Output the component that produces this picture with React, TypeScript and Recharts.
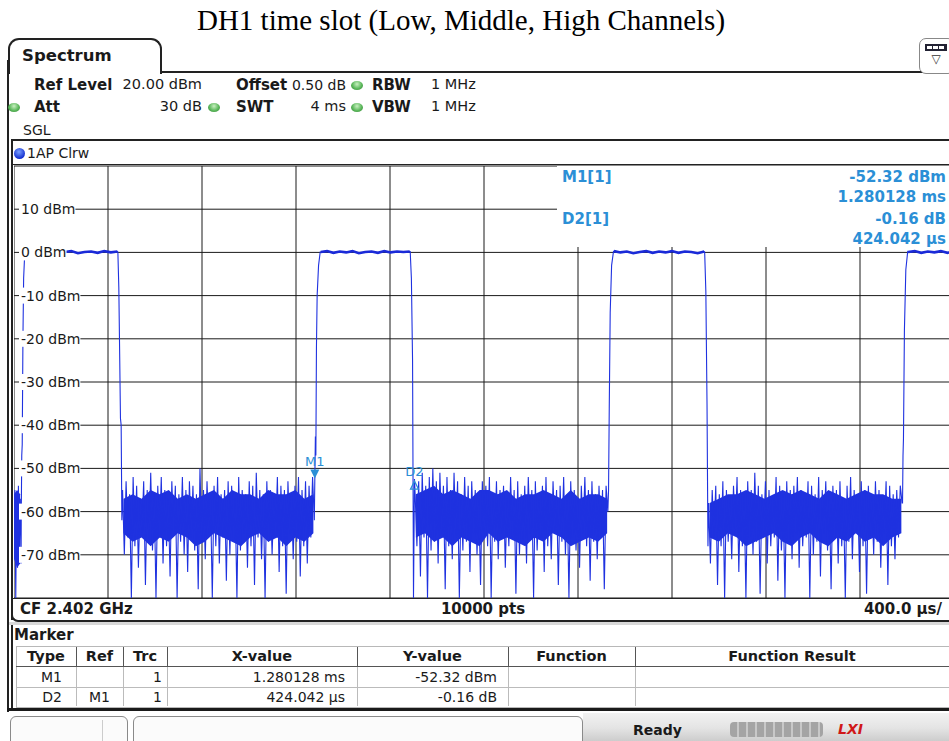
import React from "react";
import { Area, CartesianGrid, ComposedChart, Line, ReferenceDot, XAxis, YAxis } from "recharts";

// sweep 0..4 ms, 400 us/div ; ref level 20 dBm, 10 dB/div
const xTicksMs = [0, 0.4, 0.8, 1.2, 1.6, 2.0, 2.4, 2.8, 3.2, 3.6, 4.0];
const yTicksDbm = [10, 0, -10, -20, -30, -40, -50, -60, -70];

// noise floor readings (dBm) between the bursts, left to right
const noiseStart = [-71, -55, -80, -56, -73, -54, -69, -57, -72];
const noiseAfter1 = [
    -55, -70, -53, -66, -56, -80, -52, -68, -54, -73,
    -57, -65, -53, -77, -55, -67, -51, -69, -56, -80,
    -54, -66, -52, -72, -55, -68, -57, -75, -53, -65,
    -54, -80, -56, -67, -52, -70, -55, -74, -53, -66,
    -54, -69, -56, -78, -50, -67, -55, -71, -53, -65,
    -57, -80, -54, -68, -52, -72, -56, -66, -55, -76,
    -53, -70, -54, -67, -57, -80, -52, -69, -55, -65,
    -56, -73, -53, -68, -54, -77, -51, -66, -55, -71,
    -56, -80, -53, -67, -55, -70, -57, -66, -52, -74,
    -54, -68, -55, -79, -53, -65, -56, -71, -54, -67,
    -52, -75, -55, -68, -53, -72, -54, -66, -52, -62,
];
const noiseAfter2 = [
    -56, -68, -53, -75, -51, -66, -54, -80, -52, -69,
    -50, -67, -53, -72, -51, -65, -54, -78, -52, -68,
    -55, -71, -51, -66, -53, -80, -56, -69, -52, -67,
    -54, -74, -53, -65, -55, -70, -57, -77, -53, -66,
    -54, -68, -52, -80, -56, -67, -53, -71, -55, -65,
    -54, -73, -57, -68, -52, -66, -55, -79, -53, -70,
    -56, -67, -54, -72, -52, -65, -55, -80, -53, -69,
    -57, -66, -54, -74, -52, -68, -56, -71, -53, -65,
    -55, -77, -54, -67, -52, -70, -56, -80, -53, -66,
    -55, -69, -57, -73, -54, -65, -52, -68, -55, -76,
    -53, -67, -56, -71, -54, -66, -55, -78, -54, -60,
];
const noiseAfter3 = [
    -58, -72, -55, -66, -54, -77, -56, -68, -53, -80,
    -55, -67, -57, -71, -54, -65, -52, -74, -55, -68,
    -56, -80, -53, -66, -55, -70, -51, -67, -54, -79,
    -56, -65, -53, -72, -55, -68, -57, -66, -52, -76,
    -54, -69, -56, -80, -53, -67, -55, -71, -54, -65,
    -52, -73, -55, -68, -57, -66, -53, -80, -54, -70,
    -56, -67, -52, -75, -55, -65, -53, -69, -56, -78,
    -54, -66, -55, -72, -53, -68, -57, -80, -54, -67,
    -52, -71, -55, -65, -56, -74, -53, -68, -55, -79,
    -54, -66, -56, -70, -53, -67, -55, -73, -57, -65,
    -53, -77, -54, -68, -56, -71, -55, -66, -54, -58,
];

// dense core of the noise floor: upper / lower edge (dBm)
const core0Hi = [-56, -55, -56];
const core0Lo = [-71, -73, -72];
const core1Hi = [-57, -56, -57, -55, -56, -55, -57, -56, -57, -56, -55, -57, -55, -56, -56, -57, -55, -56, -56, -55, -57, -56];
const core1Lo = [-65, -67, -66, -68, -66, -67, -65, -66, -68, -67, -65, -66, -67, -68, -66, -65, -67, -66, -68, -66, -67, -65];
const core2Hi = [-56, -55, -54, -56, -55, -56, -57, -55, -55, -56, -55, -57, -56, -56, -55, -56, -57, -55, -57, -56, -56, -57];
const core2Lo = [-66, -65, -67, -66, -68, -66, -67, -68, -65, -67, -66, -67, -68, -66, -67, -65, -66, -68, -67, -66, -67, -65];
const core3Hi = [-58, -57, -56, -56, -55, -56, -57, -56, -55, -56, -55, -56, -57, -55, -56, -57, -56, -55, -56, -56, -57, -57];
const core3Lo = [-66, -67, -65, -66, -68, -67, -66, -65, -67, -68, -66, -65, -67, -68, -66, -67, -65, -67, -66, -68, -66, -65];

// burst plateau readings (dBm)
const plateau1 = [0.2, -0.1, 0.3, 0.0, -0.2, 0.2, 0.1, 0.3, -0.2, 0.1, 0.2, -0.1, 0.3, 0.0, 0.2];
const plateau2 = [0.1, 0.3, -0.1, 0.2, 0.0, 0.3, -0.2, 0.1, 0.2, -0.1, 0.3, 0.0, 0.2, 0.1, 0.2];
const plateau3 = [0.3, 0.0, 0.2, -0.2, 0.1, 0.3, -0.1, 0.2, 0.0, 0.3, -0.1, 0.2, 0.1, -0.2, 0.2];
const plateau4 = [0.1, 0.3, -0.1, 0.2, 0.0, 0.3, -0.1, 0.2];

// burst edges [ms, dBm]
const rise1 = [[0.031, -60], [0.033, -47], [0.035, -44.5], [0.038, -20], [0.041, -6], [0.046, 0.2]];
const fall1 = [[0.442, 0.1], [0.446, -8], [0.45, -25], [0.453, -38.4], [0.456, -40], [0.459, -62]];
const rise2 = [[1.2825, -42.6], [1.2845, -47], [1.287, -22], [1.29, -10], [1.296, -3], [1.303, 0.1]];
const fall2 = [[1.686, 0.2], [1.691, -6], [1.696, -25], [1.7, -80]];
const rise3 = [[2.53, -55], [2.533, -36], [2.537, -14], [2.543, -3], [2.551, 0.2]];
const fall3 = [[2.939, 0.1], [2.944, -9], [2.949, -35], [2.953, -68]];
const rise4 = [[3.781, -58], [3.783, -47], [3.785, -43], [3.789, -18], [3.795, -4], [3.803, 0.2]];

// markers
const m1At = [1.280128, -52.32];
const d2At = [1.70417, -52.48];

const spread = (vals: number[], from: number, to: number) =>
    vals.map((v, i) => ({ t: from + ((to - from) * i) / (vals.length - 1), v }));
const pts = (arr: number[][]) => arr.map(([t, v]) => ({ t, v }));
const band = (hi: number[], lo: number[], from: number, to: number) =>
    hi.map((h, i) => ({ t: from + ((to - from) * i) / (hi.length - 1), range: [lo[i], h] }));

const p1 = spread(plateau1, 0.048, 0.44);
const p2 = spread(plateau2, 1.305, 1.684);
const p3 = spread(plateau3, 2.553, 2.937);
const p4 = spread(plateau4, 3.805, 4.0);

const trace = [
    ...spread(noiseStart, 0, 0.03),
    ...pts(rise1), ...p1, ...pts(fall1),
    ...spread(noiseAfter1, 0.462, 1.278),
    { t: m1At[0], v: m1At[1] },
    ...pts(rise2), ...p2, ...pts(fall2),
    { t: d2At[0], v: d2At[1] },
    ...spread(noiseAfter2, 1.707, 2.527),
    ...pts(rise3), ...p3, ...pts(fall3),
    ...spread(noiseAfter3, 2.956, 3.779),
    ...pts(rise4), ...p4,
];

const plateauTrace = [...p1, { t: 0.9, v: null }, ...p2, { t: 2.1, v: null }, ...p3, { t: 3.4, v: null }, ...p4];
const cores = [
    band(core0Hi, core0Lo, 0.0, 0.026),
    band(core1Hi, core1Lo, 0.466, 1.274),
    band(core2Hi, core2Lo, 1.71, 2.524),
    band(core3Hi, core3Lo, 2.96, 3.776),
];

const TRACE = "#1f32e0";
const MARK = "#2b8fd6";
const FONT = '"DejaVu Sans", Verdana, sans-serif';

const DbmTick = (props: any) => {
    const { x, y, payload } = props;
    const v = payload.value;
    const label = `${v} dBm`;
    const w = 36.6 + 8.9 * String(Math.abs(v)).length + (v < 0 ? 5 : 0) + 2;
    return (
        <g>
            <rect x={x - 2} y={y - 8} width={w} height={16} fill="#fff" />
            <text x={x} y={y + 5} fontSize={14} fill="#1a1a1a" fontFamily={FONT}>{label}</text>
        </g>
    );
};

const M1Shape = (p: any) => (
    <g>
        <path d={`M${p.cx - 4.5},${p.cy - 9} L${p.cx + 4.5},${p.cy - 9} L${p.cx},${p.cy} Z`} fill={MARK} />
        <text x={p.cx} y={p.cy - 12} textAnchor="middle" fontSize={13} fill={MARK} fontFamily={FONT}>M1</text>
    </g>
);

const D2Shape = (p: any) => (
    <g>
        <text x={p.cx} y={p.cy - 3} textAnchor="middle" fontSize={13} fill={MARK} fontFamily={FONT}>D2</text>
        <path d={`M${p.cx},${p.cy + 2} L${p.cx + 4},${p.cy + 10} L${p.cx - 4},${p.cy + 10} Z`} fill="none" stroke={MARK} strokeWidth={1.2} />
    </g>
);

type TxtProps = { x: number; y: number; size?: number; bold?: boolean; anchor?: "start" | "middle" | "end"; color?: string; children: React.ReactNode; family?: string };
const Txt = ({ x, y, size = 14, bold, anchor = "start", color = "#1a1a1a", children, family }: TxtProps) => {
    const style: React.CSSProperties = {
        position: "absolute",
        top: y - size * 0.6,
        lineHeight: `${size * 1.2}px`,
        fontSize: size,
        fontWeight: bold ? 700 : 400,
        color,
        whiteSpace: "nowrap",
        fontFamily: family || FONT,
    };
    if (anchor === "end") style.right = 949 - x;
    else if (anchor === "middle") { style.left = x; style.transform = "translateX(-50%)"; }
    else style.left = x;
    return <div style={style}>{children}</div>;
};

const Box = (s: React.CSSProperties) => <div style={{ position: "absolute", ...s }} />;

const GreenDot = ({ x, y }: { x: number; y: number }) => (
    <Box left={x - 6} top={y - 4.5} width={12} height={9} borderRadius="50%"
        background="radial-gradient(ellipse at 50% 35%, #c8f0c0 0%, #5cb85c 55%, #2f7f2f 100%)" />
);

const tableCols = [16, 76, 123, 167, 357, 508, 635, 960];
const tableHead = ["Type", "Ref", "Trc", "X-value", "Y-value", "Function", "Function Result"];
const tableRows = [
    ["M1", "", "1", "1.280128 ms", "-52.32 dBm", "", ""],
    ["D2", "M1", "1", "424.042 µs", "-0.16 dB", "", ""],
];
const cellPad = [14, 13, 5, 12, 11, 8, 8];

export default function App() {
    return (
        <div style={{ position: "absolute", left: 0, top: 0, width: 949, height: 741, overflow: "hidden", background: "#fff", fontFamily: FONT }}>
            <Txt x={461} y={20} size={29} anchor="middle" color="#000" family='"Liberation Serif", "Times New Roman", serif'>
                DH1 time slot (Low, Middle, High Channels)
            </Txt>

            {/* tab + outer frame */}
            <Box left={8} top={38} width={150} height={34} border="2px solid #222" borderBottom="none" borderRadius="11px 11px 0 0" />
            <Box left={160} top={71} width={800} height={2} background="#222" />
            <Box left={7} top={60} width={2} height={652} background="#222" />
            <Txt x={22} y={56} size={16.5} bold>Spectrum</Txt>
            <Box left={919} top={38} width={34} height={34} border="1px solid #888" borderRadius={7} background="#fff" />
            <Box left={925} top={44} width={22} height={7} background="#223" />
            <Box left={927} top={46} width={5} height={3} background="#fff" />
            <Box left={933} top={46} width={5} height={3} background="#fff" />
            <Box left={939} top={46} width={5} height={3} background="#fff" />
            <Txt x={936} y={59} size={12} anchor="middle" color="#333">▽</Txt>

            {/* settings */}
            <Txt x={34} y={85} size={15} bold>Ref Level</Txt>
            <Txt x={202} y={85} size={14.5} anchor="end">20.00 dBm</Txt>
            <Txt x={236} y={85} size={15} bold>Offset</Txt>
            <Txt x={346} y={85} size={14} anchor="end">0.50 dB</Txt>
            <GreenDot x={357} y={85} />
            <Txt x={372} y={85} size={15} bold>RBW</Txt>
            <Txt x={431} y={85} size={14.5}>1 MHz</Txt>
            <GreenDot x={14} y={107} />
            <Txt x={34} y={107} size={15} bold>Att</Txt>
            <Txt x={202} y={107} size={14.5} anchor="end">30 dB</Txt>
            <GreenDot x={214} y={107} />
            <Txt x={236} y={107} size={15} bold>SWT</Txt>
            <Txt x={346} y={107} size={14.5} anchor="end">4 ms</Txt>
            <GreenDot x={357} y={107} />
            <Txt x={372} y={107} size={15} bold>VBW</Txt>
            <Txt x={431} y={107} size={14.5}>1 MHz</Txt>
            <Txt x={23} y={130} size={14}>SGL</Txt>

            {/* plot frame */}
            <Box left={11} top={139} width={960} height={2} background="#222" />
            <Box left={11} top={139} width={2} height={481} background="#222" />
            <Box left={13} top={164} width={950} height={1} background="#222" />
            <Box left={14} top={148} width={11} height={11} borderRadius="50%" background="radial-gradient(circle at 45% 35%, #7aa0ff, #1530d0 70%)" />
            <Txt x={27} y={153} size={14}>1AP Clrw</Txt>

            <div style={{ position: "absolute", left: 14, top: 165 }}>
                <ComposedChart width={940} height={434} data={trace} margin={{ top: 1, right: 0, bottom: 1, left: 0 }}>
                    <CartesianGrid stroke="#1a1a1a" strokeWidth={1} />
                    <XAxis type="number" dataKey="t" domain={[0, 4]} ticks={xTicksMs} hide />
                    <YAxis type="number" domain={[-80, 20]} ticks={yTicksDbm} mirror axisLine={false} tickLine={false}
                        tickSize={0} tickMargin={7} tick={<DbmTick />} allowDataOverflow width={60} />
                    {cores.map((c, i) => (
                        <Area key={`core-${i}`} data={c} dataKey="range" type="linear" stroke="none" fill={TRACE}
                            fillOpacity={1} isAnimationActive={false} />
                    ))}
                    <Line type="linear" dataKey="v" stroke={TRACE} strokeWidth={1.1} dot={false} isAnimationActive={false} />
                    <Line data={plateauTrace} type="linear" dataKey="v" stroke="#1a2ad8" strokeWidth={2.6} dot={false}
                        connectNulls={false} isAnimationActive={false} />
                    <ReferenceDot x={m1At[0]} y={m1At[1]} shape={M1Shape} />
                    <ReferenceDot x={d2At[0]} y={d2At[1]} shape={D2Shape} />
                </ComposedChart>
            </div>

            {/* marker readout */}
            <Box left={557} top={166} width={400} height={81} background="#fff" />
            <Txt x={562} y={177} size={15} bold color={MARK}>M1[1]</Txt>
            <Txt x={946} y={177} size={15} bold color={MARK} anchor="end">-52.32 dBm</Txt>
            <Txt x={946} y={197} size={15} bold color={MARK} anchor="end">1.280128 ms</Txt>
            <Txt x={562} y={219} size={15} bold color={MARK}>D2[1]</Txt>
            <Txt x={946} y={219} size={15} bold color={MARK} anchor="end">-0.16 dB</Txt>
            <Txt x={946} y={239} size={15} bold color={MARK} anchor="end">424.042 µs</Txt>

            {/* bottom bar of the plot */}
            <Box left={11} top={598} width={960} height={1} background="#222" />
            <Box left={11} top={598} width={960} height={22} borderLeft="2px solid #222" borderBottom="2px solid #222" borderRadius="0 0 0 7px" />
            <Txt x={20} y={609} size={15} bold>CF 2.402 GHz</Txt>
            <Txt x={483} y={609} size={15} bold anchor="middle">10000 pts</Txt>
            <Txt x={942} y={609} size={15} bold anchor="end">400.0 µs/</Txt>
            <Box left={9} top={622} width={950} height={3} background="#d8d8d8" />

            {/* marker table */}
            <Box left={11} top={625} width={2} height={84} background="#222" />
            <Txt x={14} y={635} size={15} bold>Marker</Txt>
            <Box left={16} top={646} width={940} height={60} border="1px solid #b8b8b8" background="#fff" />
            <Box left={16} top={666} width={940} height={1} background="#555" />
            <Box left={16} top={687} width={940} height={1} background="#bbb" />
            {tableCols.slice(1, -1).map((c, i) => (
                <React.Fragment key={`col-${i}`}>
                    <Box left={c} top={647} width={1} height={20} background="#555" />
                    <Box left={c} top={667} width={1} height={39} background="#bbb" />
                </React.Fragment>
            ))}
            {tableHead.map((h, i) => (
                <Txt key={`h-${i}`} x={(tableCols[i] + Math.min(tableCols[i + 1], 949)) / 2} y={657} size={14.5} bold anchor="middle">{h}</Txt>
            ))}
            {tableRows.map((row, r) =>
                row.map((cell, i) =>
                    cell ? (
                        <Txt key={`c-${r}-${i}`} x={tableCols[i + 1] - cellPad[i]} y={677 + r * 20} size={14} anchor="end">{cell}</Txt>
                    ) : null
                )
            )}
            <Box left={7} top={708} width={960} height={3} background="#1a1a1a" />

            {/* status bar */}
            <Box left={583} top={713} width={370} height={30} background="linear-gradient(#f2f2f2, #e4e4e4 50%, #c9c9c9)" />
            <Box left={10} top={716} width={116} height={30} border="1px solid #8a8a8a" borderRadius="6px 6px 0 0" background="#fbfbfb" />
            <Box left={102} top={720} width={1} height={22} background="#ccc" />
            <Box left={133} top={716} width={448} height={30} border="1px solid #8a8a8a" borderRadius="6px 6px 0 0" background="#fbfbfb" />
            <Txt x={633} y={730} size={14} bold>Ready</Txt>
            <Box left={730} top={722} width={93} height={15} borderRadius={4}
                background="repeating-linear-gradient(90deg, #a4a4a4 0px, #a4a4a4 7px, #c8c8c8 7px, #c8c8c8 9px)" />
            <Txt x={838} y={729} size={14} bold color="#d01818"><i>LXI</i></Txt>
        </div>
    );
}
